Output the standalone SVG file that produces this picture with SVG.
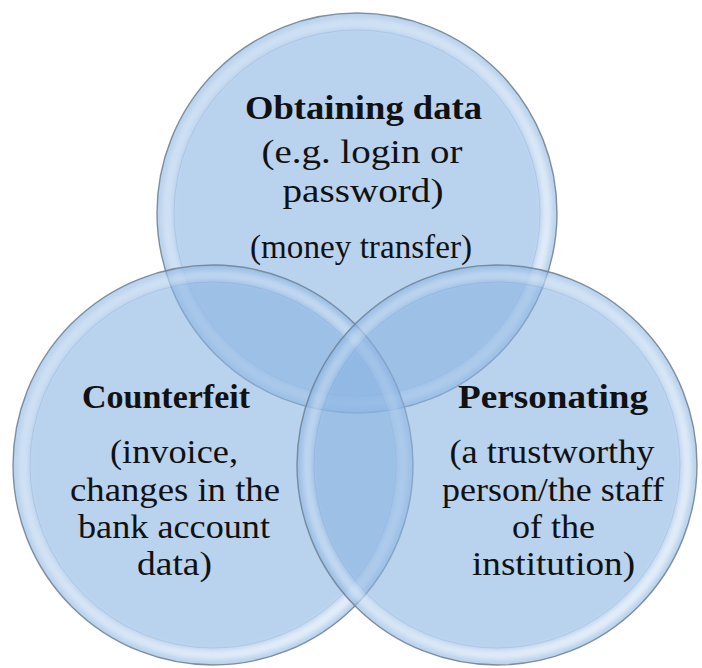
<svg xmlns="http://www.w3.org/2000/svg" width="702" height="668" viewBox="0 0 702 668">
  <defs>
    <style>
      .base { fill: rgb(138,180,227); fill-opacity: 0.6; }
      .edge { fill: none; stroke: #6f7f90; stroke-width: 1.4; stroke-opacity: 0.85; }
      .bevel { fill: none; stroke: url(#hl); stroke-width: 10; filter: url(#soft); }
      .inner { fill: none; stroke: #5f86b8; stroke-width: 1; stroke-opacity: 0.2; }
      .title { font-weight: bold; font-size: 34px; fill: #111; text-anchor: middle; }
      .body { font-size: 34px; fill: #111; text-anchor: middle; }
    </style>
    <linearGradient id="hl" x1="0" y1="0" x2="1" y2="1">
      <stop offset="0" stop-color="#ffffff" stop-opacity="0.25"/>
      <stop offset="0.6" stop-color="#ffffff" stop-opacity="0.45"/>
      <stop offset="1" stop-color="#ffffff" stop-opacity="0.7"/>
    </linearGradient>
    <filter id="soft" x="-10%" y="-10%" width="120%" height="120%">
      <feGaussianBlur stdDeviation="2.5"/>
    </filter>
  </defs>
  <rect width="702" height="668" fill="#ffffff"/>

  <g id="node-obtaining">
    <circle class="base" cx="357" cy="213" r="200"/>
    <circle class="bevel" cx="357" cy="213" r="190"/>
    <circle class="inner" cx="357" cy="213" r="183"/>
    <circle class="edge" cx="357" cy="213" r="200"/>
  </g>
  <g id="node-counterfeit">
    <circle class="base" cx="213" cy="465" r="200"/>
    <circle class="bevel" cx="213" cy="465" r="190"/>
    <circle class="inner" cx="213" cy="465" r="183"/>
    <circle class="edge" cx="213" cy="465" r="200"/>
  </g>
  <g id="node-personating">
    <circle class="base" cx="497" cy="465" r="200"/>
    <circle class="bevel" cx="497" cy="465" r="190"/>
    <circle class="inner" cx="497" cy="465" r="183"/>
    <circle class="edge" cx="497" cy="465" r="200"/>
  </g>

  <g id="labels-obtaining" font-family="Liberation Serif, Times New Roman, serif">
    <text class="title" x="363.5" y="119" textLength="237" lengthAdjust="spacingAndGlyphs">Obtaining data</text>
    <text class="body" x="362" y="163" textLength="201" lengthAdjust="spacingAndGlyphs">(e.g. login or</text>
    <text class="body" x="363" y="202" textLength="161" lengthAdjust="spacingAndGlyphs">password)</text>
    <text class="body" x="361" y="258" textLength="222" lengthAdjust="spacingAndGlyphs">(money transfer)</text>
  </g>
  <g id="labels-counterfeit" font-family="Liberation Serif, Times New Roman, serif">
    <text class="title" x="166" y="408" textLength="168" lengthAdjust="spacingAndGlyphs">Counterfeit</text>
    <text class="body" x="174" y="463" textLength="128" lengthAdjust="spacingAndGlyphs">(invoice,</text>
    <text class="body" x="175" y="501" textLength="210" lengthAdjust="spacingAndGlyphs">changes in the</text>
    <text class="body" x="174" y="538" textLength="192" lengthAdjust="spacingAndGlyphs">bank account</text>
    <text class="body" x="174.5" y="575" textLength="75" lengthAdjust="spacingAndGlyphs">data)</text>
  </g>
  <g id="labels-personating" font-family="Liberation Serif, Times New Roman, serif">
    <text class="title" x="553" y="408" textLength="190" lengthAdjust="spacingAndGlyphs">Personating</text>
    <text class="body" x="552" y="463" textLength="205" lengthAdjust="spacingAndGlyphs">(a trustworthy</text>
    <text class="body" x="553" y="501" textLength="222" lengthAdjust="spacingAndGlyphs">person/the staff</text>
    <text class="body" x="553.5" y="538" textLength="83" lengthAdjust="spacingAndGlyphs">of the</text>
    <text class="body" x="553.5" y="575" textLength="163" lengthAdjust="spacingAndGlyphs">institution)</text>
  </g>
  <g id="connectors"/>
</svg>
